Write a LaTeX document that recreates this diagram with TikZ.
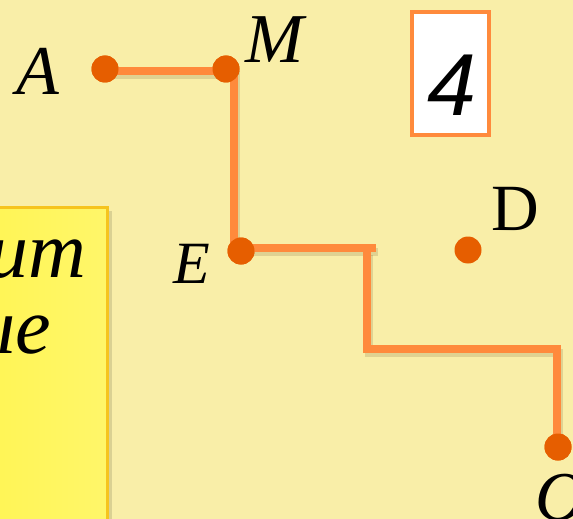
\documentclass[tikz,border=0pt]{standalone}
\usepackage{fontspec}
\setmainfont{Liberation Serif}
\newfontfamily\sansf{Liberation Sans}
\definecolor{bgyel}{RGB}{249,238,168}
\definecolor{boxyel}{RGB}{255,245,85}
\definecolor{boxedge}{RGB}{246,196,30}
\definecolor{dotor}{RGB}{230,94,0}
\definecolor{lineor}{RGB}{255,138,60}
\tikzset{
  pt/.style={circle,fill=dotor,inner sep=0pt,minimum size=27pt},
  seg/.style={draw=lineor,line width=8pt},
  shad/.style={draw=black!60!brown,line width=8pt,opacity=0.15},
  lbl/.style={inner sep=0pt,font=\fontsize{70}{70}\selectfont\itshape},
}
\begin{document}
\begin{tikzpicture}[x=1pt,y=-1pt]
\useasboundingbox (0,0) rectangle (573,519);
\clip (0,0) rectangle (573,519);
\fill[bgyel] (0,0) rectangle (573,519);
% yellow text box
\fill[black,opacity=0.12] (-10,211) rectangle (112,530);
\shade[left color=boxyel,right color=boxyel!88!white,draw=boxedge,line width=3pt] (-10,207) rectangle (107,530);
\node[anchor=base east,inner sep=0pt,font=\fontsize{80}{80}\selectfont\itshape] (t1) at (86,277) {ит};
\node[anchor=base east,inner sep=0pt,font=\fontsize{80}{80}\selectfont\itshape] (t2) at (51,353) {ые};
% number box
\node[draw=lineor,fill=white,line width=4pt,minimum width=77pt,minimum height=123pt,inner sep=0pt,anchor=north west] (num) at (410,10) {};
\node[anchor=base,inner sep=0pt,font=\sansf\fontsize{88}{88}\selectfont\itshape] (four) at (452,115) {4};
% corners
\coordinate (m1) at (234,69);
\coordinate (e1) at (234,251);
\coordinate (k1) at (376,247.5);
\coordinate (k2) at (367,251);
\coordinate (k3) at (367,348.5);
\coordinate (k4) at (557,348.5);
\coordinate (c1) at (557,447);
% shadows
\begin{scope}[shift={(2,4)}]
\draw[shad] (105,71) -- (234,71) -- (234,251);
\draw[shad] (241,247.5) -- (376,247.5);
\draw[shad] (367,251) -- (367,348.5) -- (557,348.5) -- (557,447);
\end{scope}
% points
\node[pt] (A) at (105,69) {};
\node[pt] (M) at (226,69) {};
\node[pt] (E) at (241,251) {};
\node[pt] (D) at (468,250) {};
\node[pt] (C) at (558,447) {};
% segments
\draw[seg] (A.center) ++(0,2) -- (m1 |- 0,71) -- (m1) -- (e1);
\draw[seg] (E.center) ++(0,-3.5) -- (k1);
\draw[seg,line join=miter] (k2) -- (k3) -- (k4) -- (c1);
\node[pt] at (A) {};
\node[pt] at (M) {};
\node[pt] at (E) {};
\node[pt] at (C) {};
% labels
\node[lbl,anchor=base west] (lA) at (16,95) {A};
\node[lbl,anchor=base west] (lM) at (245,63) {M};
\node[lbl,anchor=base west,font=\fontsize{60}{60}\selectfont\itshape] (lE) at (173,283) {E};
\node[inner sep=0pt,anchor=base west,font=\fontsize{66}{66}\selectfont] (lD) at (491,230) {D};
\node[lbl,anchor=base west] (lO) at (535,520) {O};
\end{tikzpicture}
\end{document}
